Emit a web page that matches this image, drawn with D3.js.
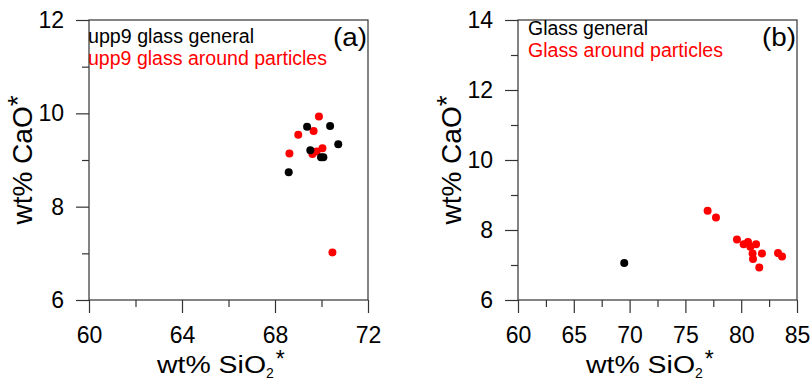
<!DOCTYPE html>
<html>
<head>
<meta charset="utf-8">
<script src="https://cdn.jsdelivr.net/npm/d3@7"></script>
<style>
	body { margin: 0; background: #fff; }
	svg { display: block; font-family: Arial, "Liberation Sans", sans-serif; }
</style>
</head>
<body>
<script>
// panel (a): upp9 glass, SiO2* vs CaO*
var aGeneralSi = [68.59, 69.38, 69.52, 70.37, 70.72, 69.98, 70.08];
var aGeneralCa = [8.74, 9.71, 9.21, 9.73, 9.34, 9.06, 9.06];
var aParticleSi = [69.89, 69.0, 69.66, 68.62, 70.04, 69.61, 69.79, 70.47];
var aParticleCa = [9.93, 9.54, 9.62, 9.14, 9.25, 9.13, 9.18, 7.02];

// panel (b): glass general vs glass around particles
var bGeneralSi = [69.52];
var bGeneralCa = [7.06];
var bParticleSi = [76.99, 77.74, 79.62, 80.22, 80.61, 80.82, 81.33, 81.02, 81.06, 81.86, 81.62, 83.3, 83.66];
var bParticleCa = [8.55, 8.36, 7.73, 7.59, 7.66, 7.52, 7.59, 7.33, 7.17, 7.33, 6.93, 7.34, 7.24];

var aXTicks = [60, 64, 68, 72], aXMinor = [62, 66, 70];
var aYTicks = [6, 8, 10, 12], aYMinor = [7, 9, 11];
var bXTicks = [60, 65, 70, 75, 80, 85], bXMinor = [62.5, 67.5, 72.5, 77.5, 82.5];
var bYTicks = [6, 8, 10, 12, 14], bYMinor = [7, 9, 11, 13];

var width = 810, height = 381;
var svg = d3.select('body').append('svg')
	.attr('width', width).attr('height', height);

function zip(xs, ys) {
	return xs.map(function (x, i) { return [x, ys[i]]; });
}

function panel(opt) {
	var top = 20, bottom = 300;
	var x = d3.scaleLinear().domain(opt.xDomain).range([opt.left, opt.right]);
	var y = d3.scaleLinear().domain(opt.yDomain).range([bottom, top]);
	var fmt = d3.format('d');
	var g = svg.append('g');

	// major + minor ticks
	g.append('g').attr('transform', 'translate(0,' + bottom + ')')
		.call(d3.axisBottom(x).tickValues(opt.xTicks).tickFormat(fmt)
			.tickSize(13).tickPadding(14).tickSizeOuter(0));
	g.append('g').attr('transform', 'translate(0,' + bottom + ')')
		.call(d3.axisBottom(x).tickValues(opt.xMinor).tickSize(7).tickFormat(''));
	g.append('g').attr('transform', 'translate(' + opt.left + ',0)')
		.call(d3.axisLeft(y).tickValues(opt.yTicks).tickFormat(fmt)
			.tickSize(13).tickPadding(12).tickSizeOuter(0));
	g.append('g').attr('transform', 'translate(' + opt.left + ',0)')
		.call(d3.axisLeft(y).tickValues(opt.yMinor).tickSize(7).tickFormat(''));

	g.selectAll('.domain').remove();
	g.selectAll('.tick line').attr('stroke', '#333').attr('stroke-width', 1.2);
	g.selectAll('.tick text').attr('font-size', 23).attr('fill', '#000')
		.attr('font-family', 'Arial, "Liberation Sans", sans-serif');

	// frame
	g.append('rect')
		.attr('x', opt.left).attr('y', top)
		.attr('width', opt.right - opt.left).attr('height', bottom - top)
		.attr('fill', 'none').attr('stroke', '#333').attr('stroke-width', 1.2);

	// points: red first, black on top
	g.selectAll('.red').data(zip(opt.pSi, opt.pCa)).enter().append('circle')
		.attr('cx', function (d) { return x(d[0]); })
		.attr('cy', function (d) { return y(d[1]); })
		.attr('r', 4).attr('fill', '#ff0000');
	g.selectAll('.black').data(zip(opt.gSi, opt.gCa)).enter().append('circle')
		.attr('cx', function (d) { return x(d[0]); })
		.attr('cy', function (d) { return y(d[1]); })
		.attr('r', 4).attr('fill', '#000');

	// legend text
	g.append('text').attr('x', opt.left + opt.legDx).attr('y', opt.legY)
		.attr('font-size', 19.5).attr('fill', '#000')
		.attr('textLength', opt.len1).attr('lengthAdjust', 'spacingAndGlyphs').text(opt.leg1);
	g.append('text').attr('x', opt.left + opt.legDx).attr('y', opt.legY + 22)
		.attr('font-size', 19.5).attr('fill', '#ff0000')
		.attr('textLength', opt.len2).attr('lengthAdjust', 'spacingAndGlyphs').text(opt.leg2);

	g.append('text').attr('x', opt.right - 1).attr('y', 46)
		.attr('text-anchor', 'end').attr('font-size', 25)
		.attr('textLength', 34).attr('lengthAdjust', 'spacingAndGlyphs')
		.text(opt.tag);

	// axis titles
	var xt = g.append('text').attr('x', opt.left + 68).attr('y', 373).attr('font-size', 23);
	xt.append('tspan').attr('textLength', 109).attr('lengthAdjust', 'spacingAndGlyphs').text('wt% SiO');
	xt.append('tspan').attr('font-size', 14).attr('dy', 5).text('2');
	xt.append('tspan').attr('dy', -11).attr('dx', 2).text('*');

	var yt = g.append('text')
		.attr('transform', 'translate(' + (opt.left - 57) + ',' + ((top + bottom) / 2) + ') rotate(-90)')
		.attr('text-anchor', 'middle').attr('font-size', 28);
	yt.append('tspan').text('wt% CaO');
	yt.append('tspan').attr('dy', -5).text('*');
}

panel({
	left: 89, right: 368,
	xDomain: [60, 72], yDomain: [6, 12],
	xTicks: aXTicks, xMinor: aXMinor, yTicks: aYTicks, yMinor: aYMinor,
	gSi: aGeneralSi, gCa: aGeneralCa, pSi: aParticleSi, pCa: aParticleCa,
	leg1: 'upp9 glass general', leg2: 'upp9 glass around particles',
	len1: 166, len2: 239,
	legDx: -1, legY: 43, tag: '(a)'
});

panel({
	left: 518, right: 797,
	xDomain: [60, 85], yDomain: [6, 14],
	xTicks: bXTicks, xMinor: bXMinor, yTicks: bYTicks, yMinor: bYMinor,
	gSi: bGeneralSi, gCa: bGeneralCa, pSi: bParticleSi, pCa: bParticleCa,
	leg1: 'Glass general', leg2: 'Glass around particles',
	len1: 120, len2: 195,
	legDx: 10, legY: 35, tag: '(b)'
});
</script>
</body>
</html>
